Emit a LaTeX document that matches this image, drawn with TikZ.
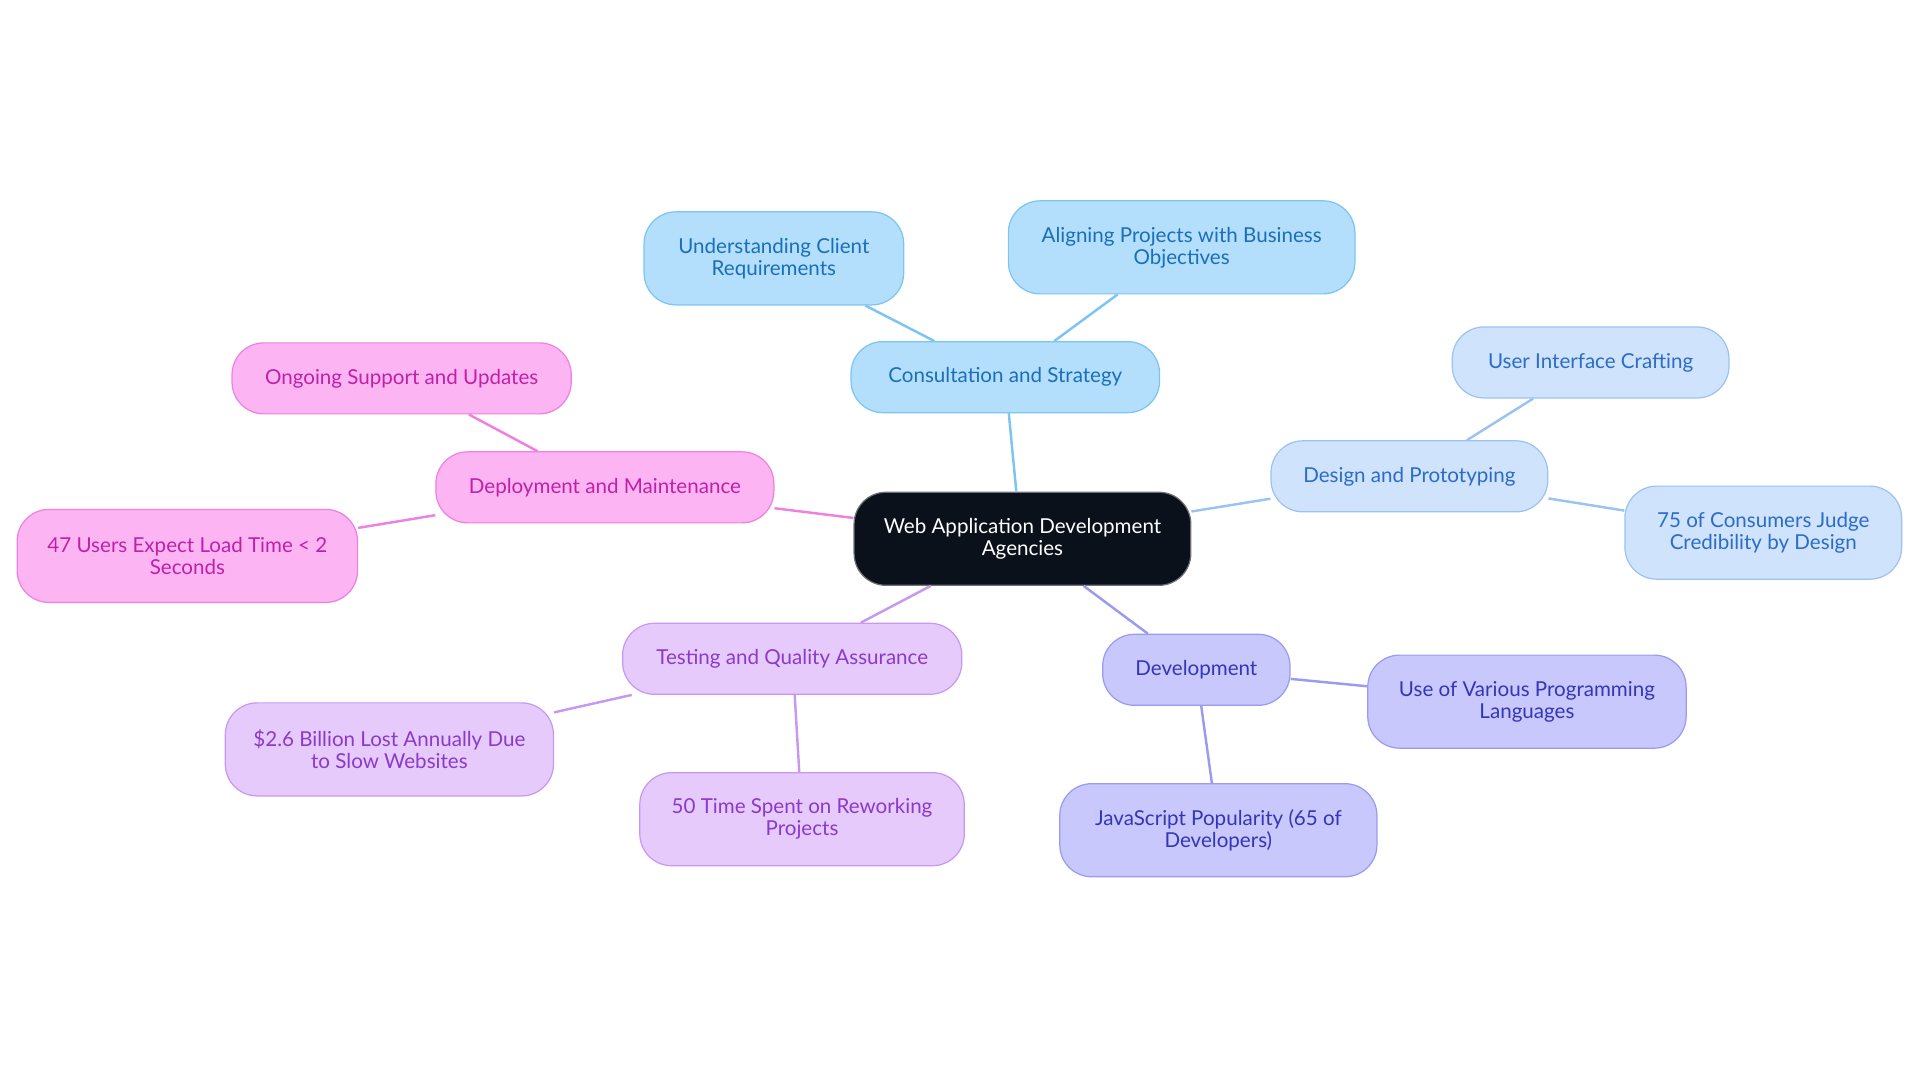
\documentclass[tikz,border=0pt]{standalone}
\usepackage{fontspec}
\setmainfont{Lato}
\begin{document}
\begin{tikzpicture}[x=0.5pt,y=-0.5pt,
 base/.style={rounded corners=13pt,align=center,inner sep=0pt,font=\fontsize{8.4}{9}\selectfont,line width=0.5pt},
 cblue/.style={base,fill=cbF,draw=cbD,text=cbT},
 cdes/.style={base,fill=cdF,draw=cdD,text=cdT},
 cdev/.style={base,fill=cvF,draw=cvD,text=cvT},
 ctest/.style={base,fill=ctF,draw=ctD,text=ctT},
 cdep/.style={base,fill=cpF,draw=cpD,text=cpT},
 ln/.style={line width=1pt}]
\definecolor{cbF}{HTML}{B3DFFC}\definecolor{cbD}{HTML}{7CC4F2}\definecolor{cbT}{HTML}{1A6FB8}
\definecolor{cdF}{HTML}{CFE3FC}\definecolor{cdD}{HTML}{9CC2F2}\definecolor{cdT}{HTML}{2A6CC8}
\definecolor{cvF}{HTML}{C8C8FC}\definecolor{cvD}{HTML}{9A9AF0}\definecolor{cvT}{HTML}{3535B8}
\definecolor{ctF}{HTML}{E6CAFC}\definecolor{ctD}{HTML}{C898F0}\definecolor{ctT}{HTML}{8A3AC8}
\definecolor{cpF}{HTML}{FCB5F2}\definecolor{cpD}{HTML}{F080E0}\definecolor{cpT}{HTML}{C020A8}
\definecolor{cc}{HTML}{0B111B}
\useasboundingbox (0,0) rectangle (1568,884);
\node[base,fill=cc,draw=cc!60,text=white,minimum width=275\pgflinewidth*0+137.5pt,minimum height=38pt] (c) at (835,440) {Web Application Development\\Agencies};
\node[cblue,minimum width=126pt,minimum height=29pt] (cs) at (821,308) {Consultation and Strategy};
\node[cblue,minimum width=106pt,minimum height=38pt] (uc) at (632,211) {Understanding Client\\Requirements};
\node[cblue,minimum width=141.5pt,minimum height=38pt] (ap) at (965,202) {Aligning Projects with Business\\Objectives};
\node[cdes,minimum width=113pt,minimum height=29pt] (dp) at (1151,389) {Design and Prototyping};
\node[cdes,minimum width=113pt,minimum height=29pt] (ui) at (1299,296) {User Interface Crafting};
\node[cdes,minimum width=113pt,minimum height=38pt] (cj) at (1440,435) {75 of Consumers Judge\\Credibility by Design};
\node[cdev,minimum width=76.5pt,minimum height=29pt] (dv) at (977,547) {Development};
\node[cdev,minimum width=130pt,minimum height=38pt] (pl) at (1247,573) {Use of Various Programming\\Languages};
\node[cdev,minimum width=129.5pt,minimum height=38pt] (js) at (995,678) {JavaScript Popularity (65 of\\Developers)};
\node[ctest,minimum width=138.5pt,minimum height=29pt] (tq) at (647,538) {Testing and Quality Assurance};
\node[ctest,minimum width=134pt,minimum height=38pt] (bl) at (318,612) {\$2.6 Billion Lost Annually Due\\to Slow Websites};
\node[ctest,minimum width=132.5pt,minimum height=38pt] (rw) at (655,669) {50 Time Spent on Reworking\\Projects};
\node[cdep,minimum width=138pt,minimum height=29pt] (dm) at (494,398) {Deployment and Maintenance};
\node[cdep,minimum width=138.5pt,minimum height=29pt] (os) at (328,309) {Ongoing Support and Updates};
\node[cdep,minimum width=139pt,minimum height=38pt] (lt) at (153,454) {47 Users Expect Load Time < 2\\Seconds};
\draw[ln,cbD] (c.north) ++(-5,0) coordinate (c1);
\draw[ln,cbD] (c1) -- (cs);
\draw[ln,cbD] (cs.north) ++(-58,0) coordinate (q1); \draw[ln,cbD] (q1) -- (uc);
\draw[ln,cbD] (cs.north) ++(40,0) coordinate (q2); \draw[ln,cbD] (q2) -- (ap);
\draw[ln,cdD] (c) -- (dp);
\draw[ln,cdD] (dp) -- (ui);
\draw[ln,cdD] (dp) -- (cj);
\draw[ln,cvD] (c.south) ++(50,0) coordinate (c2); \draw[ln,cvD] (c2) -- (dv);
\draw[ln,cvD] (dv) -- (pl);
\draw[ln,cvD] (dv.south) ++(4,0) coordinate (d2); \draw[ln,cvD] (d2) -- (js);
\draw[ln,ctD] (c.south) ++(-75,0) coordinate (c3); \draw[ln,ctD] (c3) -- (tq);
\draw[ln,ctD] (tq) -- (bl);
\draw[ln,ctD] (tq.south) ++(2,0) coordinate (t2); \draw[ln,ctD] (t2) -- (rw);
\draw[ln,cpD] (c) -- (dm);
\draw[ln,cpD] (dm) -- (os);
\draw[ln,cpD] (dm) -- (lt);
\end{tikzpicture}
\end{document}
